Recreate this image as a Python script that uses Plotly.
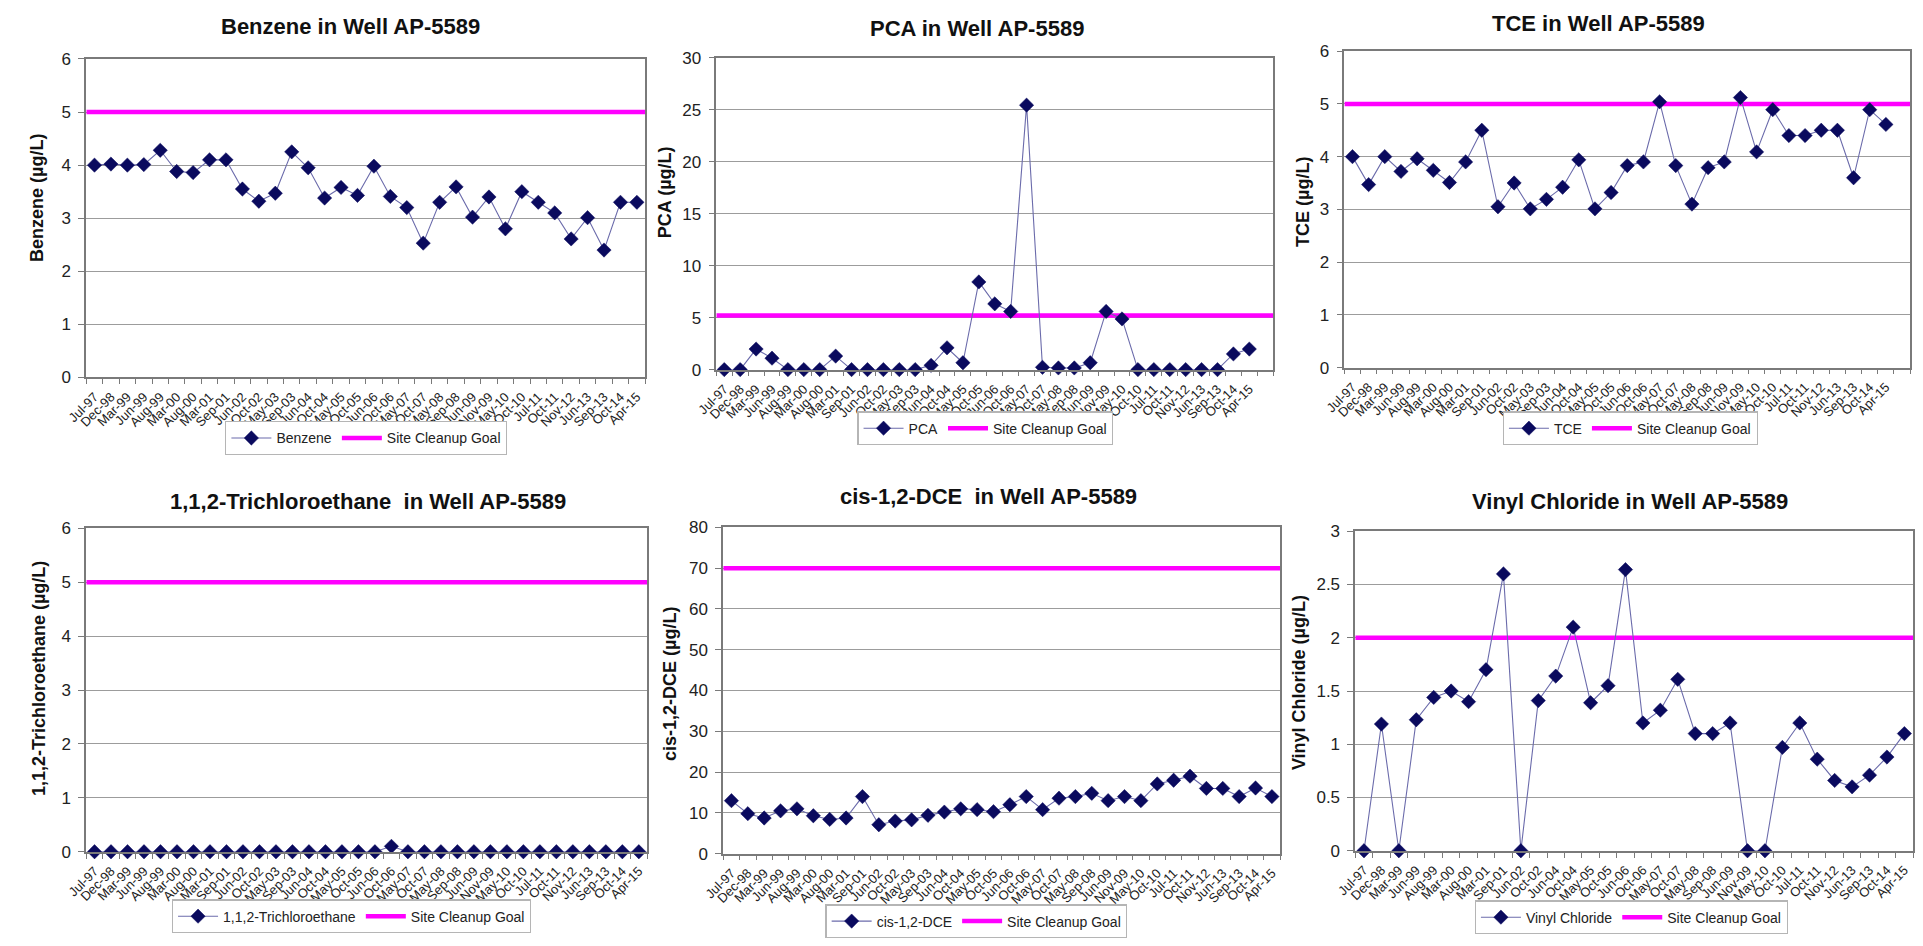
import plotly.graph_objects as go

W, H = 1923, 946

# ---------------- data ----------------
dates_main = ["Jul-97", "Dec-98", "Mar-99", "Jun-99", "Aug-99", "Mar-00", "Aug-00", "Mar-01",
              "Sep-01", "Jun-02", "Oct-02", "May-03", "Sep-03", "Jun-04", "Oct-04", "May-05",
              "Oct-05", "Jun-06", "Oct-06", "May-07", "Oct-07", "May-08", "Sep-08", "Jun-09",
              "Nov-09", "May-10", "Oct-10", "Jul-11", "Oct-11", "Nov-12", "Jun-13", "Sep-13",
              "Oct-14", "Apr-15"]
dates_vinyl = ["Jul-97", "Dec-98", "Mar-99", "Jun-99", "Aug-99", "Mar-00", "Aug-00", "Mar-01",
               "Sep-01", "Jun-02", "Oct-02", "Jun-04", "Oct-04", "May-05", "Oct-05", "Jun-06",
               "Oct-06", "May-07", "Oct-07", "May-08", "Sep-08", "Jun-09", "Nov-09", "May-10",
               "Oct-10", "Jul-11", "Oct-11", "Nov-12", "Jun-13", "Sep-13", "Oct-14", "Apr-15"]

benzene = [4.0, 4.02, 4.0, 4.01, 4.28, 3.88, 3.86, 4.1, 4.1, 3.55, 3.32, 3.47, 4.25, 3.95,
           3.38, 3.58, 3.43, 3.98, 3.41, 3.2, 2.53, 3.3, 3.59, 3.02, 3.4, 2.8, 3.5, 3.3,
           3.1, 2.61, 3.01, 2.4, 3.3, 3.3]
pca = [0, 0, 1.98, 1.1, 0, 0, 0, 1.3, 0, 0, 0, 0, 0, 0.41, 2.1, 0.66, 8.44, 6.33, 5.6,
       25.46, 0.22, 0.16, 0.16, 0.66, 5.6, 4.88, 0, 0, 0, 0, 0, 0, 1.51, 1.98]
tce = [4.0, 3.47, 4.0, 3.72, 3.96, 3.74, 3.51, 3.9, 4.5, 3.05, 3.5, 3.01, 3.19, 3.42, 3.94,
       3.01, 3.32, 3.83, 3.9, 5.04, 3.83, 3.1, 3.79, 3.9, 5.12, 4.09, 4.89, 4.4, 4.4, 4.5,
       4.5, 3.6, 4.89, 4.61]
tca = [0, 0, 0, 0, 0, 0, 0, 0, 0, 0, 0, 0, 0, 0, 0, 0, 0, 0, 0.1, 0, 0, 0, 0, 0, 0, 0, 0,
       0, 0, 0, 0, 0, 0, 0]
dce = [13.0, 9.8, 8.75, 10.5, 11.0, 9.3, 8.4, 8.75, 14.0, 7.1, 8.0, 8.3, 9.4, 10.2, 11.0,
       10.8, 10.3, 12.0, 14.0, 10.8, 13.6, 14.0, 14.8, 13.0, 14.0, 13.0, 17.1, 18.0, 19.0,
       16.0, 16.0, 14.0, 16.1, 14.0]
vinyl = [0, 1.19, 0, 1.23, 1.44, 1.5, 1.4, 1.7, 2.6, 0, 1.41, 1.64, 2.1, 1.39, 1.55, 2.64,
         1.2, 1.32, 1.61, 1.1, 1.1, 1.2, 0, 0, 0.97, 1.2, 0.86, 0.66, 0.6, 0.71, 0.88, 1.1]

series_names = ["Benzene", "PCA", "TCE", "1,1,2-Trichloroethane", "cis-1,2-DCE", "Vinyl Chloride"]
chart_titles = ["Benzene in Well AP-5589", "PCA in Well AP-5589", "TCE in Well AP-5589",
                "1,1,2-Trichloroethane  in Well AP-5589", "cis-1,2-DCE  in Well AP-5589",
                "Vinyl Chloride in Well AP-5589"]
y_titles = ["Benzene (µg/L)", "PCA (µg/L)", "TCE (µg/L)", "1,1,2-Trichloroethane (µg/L)",
            "cis-1,2-DCE (µg/L)", "Vinyl Chloride (µg/L)"]
cleanup_goals = [5, 5.2, 5, 5, 70, 2]
y_max = [6, 30, 6, 6, 80, 3]
y_step = [1, 5, 1, 1, 10, 0.5]
values = [benzene, pca, tce, tca, dce, vinyl]
labels = [dates_main, dates_main, dates_main, dates_main, dates_main, dates_vinyl]
n_slots = [34, 35, 35, 34, 34, 32]   # category slots on each x axis

# ---------------- layout geometry (pixels) ----------------
plot_px = [(66, 631, 51, 376), (703, 1266, 50, 368), (1338, 1910, 43, 366),
           (66, 633, 530, 860), (710, 1273, 529, 862), (1349, 1913, 533, 859)]
title_px = [(333, 18), (967, 20), (1595, 15), (351, 503), (978, 498), (1627, 503)]
ytitle_px = [(16, 193), (651, 187), (1296, 197), (18, 683), (656, 689), (1292, 687)]
legend_px = [(349, 438), (975, 428), (1627, 428), (334, 926), (966, 931), (1628, 927)]

FONT = "Liberation Sans, Arial, sans-serif"
NAVY = "#0a0a5e"
LINE = "#6b6bab"
MAGENTA = "#ff00ff"
GRID = "#9c9c9c"
AXIS = "#7a7a7a"

def px_x(v):
    return v / W

def px_y(v):
    return 1 - v / H

fig = go.Figure()
layout = dict(width=W, height=H, margin=dict(l=0, r=0, t=0, b=0),
              paper_bgcolor="white", plot_bgcolor="white", showlegend=True,
              font=dict(family=FONT, color="#1a1a1a"))
annotations = []

for i in range(6):
    k = "" if i == 0 else str(i + 1)
    xa, ya = "x" + k, "y" + k
    leg = "legend" + k
    x0, x1, y0, y1 = plot_px[i]
    xs = list(range(len(values[i])))
    x_lo, x_hi = -0.5, n_slots[i] - 0.5

    # cleanup goal: spans the whole category axis (drawn first, under the data)
    fig.add_trace(go.Scatter(
        x=[x_lo, x_hi], y=[cleanup_goals[i], cleanup_goals[i]], name="Site Cleanup Goal",
        mode="lines", xaxis=xa, yaxis=ya, legend=leg, legendrank=2,
        line=dict(color=MAGENTA, width=4.5), hoverinfo="skip"))
    fig.add_trace(go.Scatter(
        x=xs, y=values[i], name=series_names[i], mode="lines+markers",
        xaxis=xa, yaxis=ya, legend=leg, legendrank=1,
        line=dict(color=LINE, width=1.1),
        marker=dict(symbol="diamond", size=11, color=NAVY, line=dict(color=NAVY, width=0.5)),
        cliponaxis=False))

    layout["xaxis" + k] = dict(
        domain=[px_x(x0), px_x(x1)], anchor=ya, type="linear",
        range=[x_lo, x_hi], tickmode="array",
        tickvals=list(range(len(labels[i]))), ticktext=labels[i],
        tickangle=-45, tickfont=dict(size=13, family=FONT, color="#222"),
        ticks="outside", ticklen=5, tickcolor="rgba(0,0,0,0)",
        minor=dict(tickmode="linear", tick0=-0.5, dtick=1, ticks="outside",
                   ticklen=5, tickcolor=AXIS, tickwidth=1.2, showgrid=False),
        showgrid=False, zeroline=False, showline=True, mirror=True,
        linecolor=AXIS, linewidth=1.6, fixedrange=True)
    layout["yaxis" + k] = dict(
        domain=[px_y(y1), px_y(y0)], anchor=xa, range=[0, y_max[i]],
        tickmode="linear", tick0=0, dtick=y_step[i],
        tickfont=dict(size=17, family=FONT, color="#222"),
        ticks="outside", ticklen=6, tickcolor=AXIS, tickwidth=1.2,
        ticklabelstandoff=4,
        showgrid=True, gridcolor=GRID, gridwidth=1.3, zeroline=False,
        showline=True, mirror=True, linecolor=AXIS, linewidth=1.6, fixedrange=True)
    layout[leg] = dict(
        orientation="h", x=px_x(legend_px[i][0]), y=px_y(legend_px[i][1]),
        xanchor="center", yanchor="middle", bgcolor="white",
        bordercolor="#b5b5b5", borderwidth=1.2, traceorder="normal",
        font=dict(size=14, family=FONT, color="#222"), itemwidth=40,
        tracegroupgap=0)

    annotations.append(dict(
        text="<b>" + chart_titles[i] + "</b>", xref="paper", yref="paper",
        x=px_x(title_px[i][0]), y=px_y(title_px[i][1]), xanchor="center", yanchor="middle",
        showarrow=False, font=dict(size=22, family=FONT, color="#111")))
    annotations.append(dict(
        text="<b>" + y_titles[i] + "</b>", xref="paper", yref="paper", textangle=-90,
        x=px_x(ytitle_px[i][0]), y=px_y(ytitle_px[i][1]), xanchor="center", yanchor="middle",
        showarrow=False, font=dict(size=18, family=FONT, color="#111")))

layout["annotations"] = annotations
fig.update_layout(**layout)
fig.write_html("out.html")
